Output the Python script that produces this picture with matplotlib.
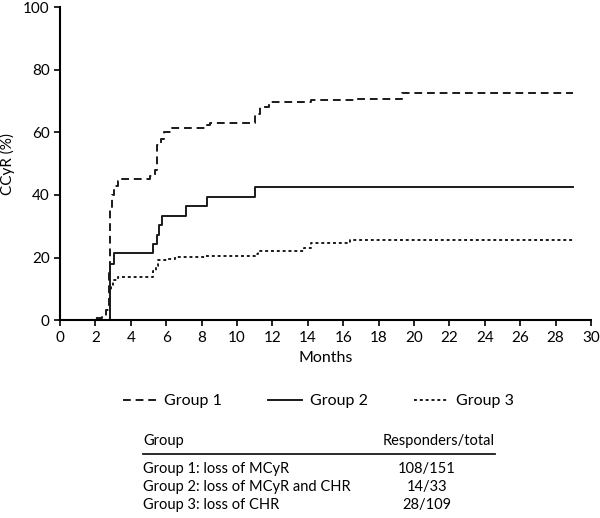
import matplotlib
matplotlib.use("Agg")
import matplotlib.pyplot as plt
from matplotlib.lines import Line2D

plt.rcParams['font.family'] = ['Lato', 'DejaVu Sans']

# step data (months, % responders)
g1_t = [0.0, 1.8, 2.4, 2.6, 2.75, 2.8, 2.85, 2.95, 3.05, 3.3, 3.5, 5.1, 5.35, 5.5, 5.7, 5.9, 6.3, 8.2, 8.5, 11.0, 11.3, 11.8, 14.2, 16.8, 19.3, 29.0]
g1_y = [0.0, 0.7, 1.3, 3.3, 15, 29, 36, 40, 43, 44.5, 45, 46, 48, 56, 58, 60, 61.5, 62.5, 63, 66, 68, 69.6, 70.2, 70.8, 72.5, 72.5]

g2_t = [0.0, 2.8, 2.85, 3.05, 5.25, 5.5, 5.6, 5.75, 7.1, 8.3, 11.0, 29.0]
g2_y = [0.0, 15, 18, 21.4, 24.2, 27.3, 30.3, 33.3, 36.4, 39.4, 42.4, 42.4]

g3_t = [0.0, 2.8, 2.9, 3.0, 3.3, 5.25, 5.4, 5.55, 6.1, 6.5, 8.2, 11.0, 11.2, 13.8, 14.2, 16.4, 29.0]
g3_y = [0.0, 9.2, 11, 12.8, 13.8, 15.6, 17.4, 19.3, 19.6, 20.2, 20.6, 21.1, 22, 22.9, 24.8, 25.7, 25.7]

groups = ["Group 1", "Group 2", "Group 3"]
table_names = ["Group 1: loss of MCyR", "Group 2: loss of MCyR and CHR", "Group 3: loss of CHR"]
table_vals = ["108/151", "14/33", "28/109"]

fig = plt.figure(figsize=(6, 5.18), dpi=100)
ax = fig.add_axes([0.1, 0.382, 0.885, 0.604])

styles = [(0, (4, 2.5)), "-", (0, (1.5, 1.5))]
for t, y, ls in zip([g1_t, g2_t, g3_t], [g1_y, g2_y, g3_y], styles):
    ax.step(t, y, where="post", color="#1a1a1a", lw=1.4, linestyle=ls)

ax.set_xlim(0, 30)
ax.set_ylim(0, 100)
ax.set_xticks(range(0, 31, 2))
ax.set_yticks(range(0, 101, 20))
ax.spines["top"].set_visible(False)
ax.spines["right"].set_visible(False)
ax.spines["left"].set_linewidth(1.5)
ax.spines["bottom"].set_linewidth(1.5)
ax.tick_params(direction="out", length=4, width=1.2, labelsize=11)
ax.set_xlabel("Months", fontsize=11.5, labelpad=5)
ax.set_ylabel("CCyR (%)", fontsize=11, labelpad=6)

handles = [Line2D([], [], color="#1a1a1a", lw=1.4, linestyle=ls) for ls in styles]
fig.legend(handles, groups, loc="center", bbox_to_anchor=(318 / 600, 1 - 401 / 518),
           ncol=3, frameon=False, fontsize=11.5, handlelength=2.1,
           columnspacing=2.9, handletextpad=0.5)

# small table under the legend
x_left = 143 / 600
x_right = 495 / 600
fig.text(x_left, 1 - 441 / 518, "Group", fontsize=10.5, va="center")
fig.text(x_right, 1 - 441 / 518, "Responders/total", fontsize=10.5, va="center", ha="right")
fig.add_artist(Line2D([x_left, x_right], [1 - 454 / 518] * 2, color="#1a1a1a", lw=1.3))
for i, (name, val) in enumerate(zip(table_names, table_vals)):
    yy = 1 - (469 + 18 * i) / 518
    fig.text(x_left, yy, name, fontsize=10.5, va="center")
    fig.text(427 / 600, yy, val, fontsize=10.5, va="center", ha="center")

fig.savefig("out.png", dpi=100)
